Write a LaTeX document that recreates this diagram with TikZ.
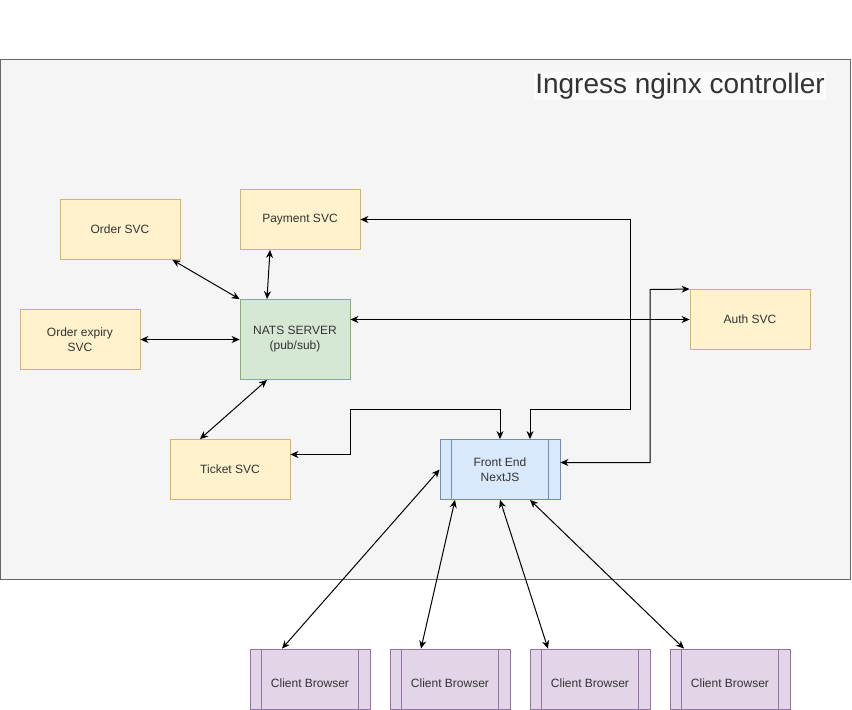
\documentclass[tikz,border=0pt]{standalone}
\usepackage{fontspec}
\setmainfont{Liberation Sans}
\usetikzlibrary{arrows.meta}
\definecolor{ylwF}{HTML}{FFF2CC}\definecolor{ylwD}{HTML}{D6B656}
\definecolor{grnF}{HTML}{D5E8D4}\definecolor{grnD}{HTML}{82B366}
\definecolor{bluF}{HTML}{DAE8FC}\definecolor{bluD}{HTML}{6C8EBF}
\definecolor{purF}{HTML}{E1D5E7}\definecolor{purD}{HTML}{9673A6}
\definecolor{contF}{HTML}{F5F5F5}\definecolor{contD}{HTML}{666666}
\definecolor{txt}{HTML}{333333}
\begin{document}
\begin{tikzpicture}[x=1pt,y=-1pt,
  box/.style={draw, minimum width=120pt, minimum height=60pt, inner sep=0pt, align=center,
    font=\fontsize{12}{15}\selectfont, text=txt, line width=0.8pt},
  svc/.style={box, fill=ylwF, draw=ylwD},
  link/.style={line width=1pt, {Stealth[length=8pt,width=7pt,inset=2.5pt]}-{Stealth[length=8pt,width=7pt,inset=2.5pt]}}
]
\useasboundingbox (0,0) rectangle (852,710);
\node[draw=contD, fill=contF, line width=0.8pt, minimum width=850pt, minimum height=520pt, inner sep=0pt, anchor=north west] (ing) at (0,59) {};
\node[fill=white!60!contF, inner sep=1pt, font=\fontsize{28}{30}\selectfont, text=txt, anchor=center] (title) at (680,86) {Ingress nginx controller};

\node[svc] (order) at (120,229.5) {Order SVC};
\node[svc] (pay) at (300,219.5) {Payment SVC};
\node[svc] (exp) at (80,339.5) {Order expiry\\SVC};
\node[box, fill=grnF, draw=grnD, minimum width=110pt, minimum height=80pt] (nats) at (295,339.5) {NATS SERVER\\(pub/sub)};
\node[svc] (ticket) at (230,469.5) {Ticket SVC};
\node[svc] (auth) at (750,319.5) {Auth SVC};
\node[box, fill=bluF, draw=bluD] (fe) at (500,469.5) {Front End\\NextJS};
\draw[bluD, line width=0.8pt] ([xshift=12pt]fe.north west) -- ([xshift=12pt]fe.south west)
  ([xshift=-12pt]fe.north east) -- ([xshift=-12pt]fe.south east);

\foreach \i/\x in {1/310,2/450,3/590,4/730}{
  \node[box, fill=purF, draw=purD] (cb\i) at (\x,679) {\raisebox{-4.5pt}[\height][\depth]{Client Browser}};
  \draw[purD, line width=0.8pt] ([xshift=12pt]cb\i.north west) -- ([xshift=12pt]cb\i.south west)
    ([xshift=-12pt]cb\i.north east) -- ([xshift=-12pt]cb\i.south east);
}

\draw[link] ([xshift=-8pt]order.south east) -- (nats.north west);
\draw[link] ([xshift=-30pt]pay.south) -- ([xshift=-28pt]nats.north);
\draw[link] (exp.east) -- (nats.west);
\draw[link] ([xshift=-30pt]ticket.north) -- ([xshift=-28pt]nats.south);
\draw[link] ([yshift=20pt]nats.east) -- (auth.west);
\draw[link] (pay.east) -- (630,219.5) -- (630,409.5) -- (530,409.5) -- ([xshift=30pt]fe.north);
\draw[link] ([yshift=15pt]ticket.east) -- (350,454.5) -- (350,409.5) -- (500,409.5) -- (fe.north);
\draw[link] (auth.north west) -- (650,289.5) -- (650,462.5) -- ([yshift=7pt]fe.east);

\draw[link] (fe.west) -- ([xshift=-28pt]cb1.north);
\draw[link] ([xshift=-45pt]fe.south) -- ([xshift=-29pt]cb2.north);
\draw[link] (fe.south) -- ([xshift=-42pt]cb3.north);
\draw[link] ([xshift=30pt]fe.south) -- ([xshift=-46pt]cb4.north);
\end{tikzpicture}
\end{document}
